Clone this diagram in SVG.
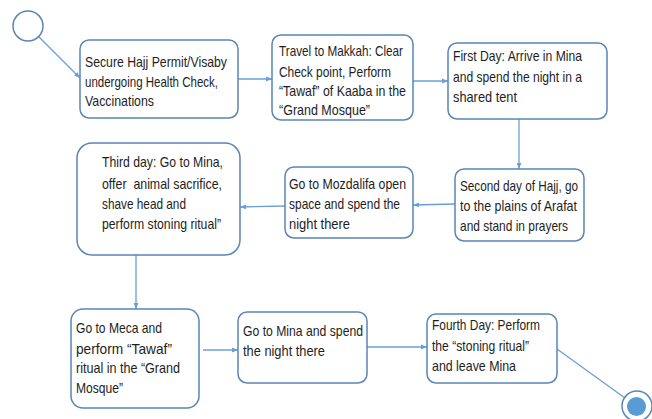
<svg xmlns="http://www.w3.org/2000/svg" width="652" height="419" viewBox="0 0 652 419">
  <style>
    .box { fill: #ffffff; stroke: #5a85b6; stroke-width: 1.5; }
    .edge { fill: none; stroke: #6a9fd6; stroke-width: 1.3; }
    .lbl { font-family: "Liberation Sans", Arial, sans-serif; font-size: 14.5px; fill: #1e1e1e; }
    .start { fill: #ffffff; stroke: #5a85b6; stroke-width: 1.5; }
    .end-ring { fill: #ffffff; stroke: #5a85b6; stroke-width: 1.5; }
    .end-dot { fill: #5b9bd5; }
  </style>
  <defs>
    <marker id="arr" viewBox="0 0 6 6" refX="6" refY="3" markerWidth="6" markerHeight="6" markerUnits="userSpaceOnUse" orient="auto">
      <path d="M0,0.6 L6,3 L0,5.4 z" fill="#6a9fd6"/>
    </marker>
  </defs>

  <!-- connectors -->
  <g id="connectors">
    <line class="edge" x1="39" y1="37" x2="80" y2="78" marker-end="url(#arr)"/>
    <line class="edge" x1="238" y1="79" x2="272" y2="79" marker-end="url(#arr)"/>
    <line class="edge" x1="413" y1="81" x2="448" y2="81" marker-end="url(#arr)"/>
    <line class="edge" x1="519" y1="119" x2="519" y2="169" marker-end="url(#arr)"/>
    <line class="edge" x1="455" y1="204" x2="413" y2="205" marker-end="url(#arr)"/>
    <line class="edge" x1="285" y1="206" x2="240" y2="207" marker-end="url(#arr)"/>
    <line class="edge" x1="136" y1="255" x2="136" y2="309" marker-end="url(#arr)"/>
    <line class="edge" x1="203" y1="350" x2="238" y2="350" marker-end="url(#arr)"/>
    <line class="edge" x1="367" y1="347" x2="427" y2="347" marker-end="url(#arr)"/>
    <line class="edge" x1="557" y1="349" x2="625" y2="398"/>
  </g>

  <!-- initial state -->
  <g id="start">
    <circle class="start" cx="28" cy="26" r="15"/>
  </g>

  <g id="n1">
    <rect class="box" x="80" y="40" width="158" height="78" rx="9"/>
    <text class="lbl" x="85" y="67" textLength="142" lengthAdjust="spacingAndGlyphs">Secure Hajj Permit/Visaby</text>
    <text class="lbl" x="85" y="87" textLength="133" lengthAdjust="spacingAndGlyphs">undergoing Health Check,</text>
    <text class="lbl" x="85" y="106" textLength="69" lengthAdjust="spacingAndGlyphs">Vaccinations</text>
  </g>

  <g id="n2">
    <rect class="box" x="272" y="35" width="141" height="85" rx="9"/>
    <text class="lbl" x="279" y="56" textLength="124" lengthAdjust="spacingAndGlyphs">Travel to Makkah: Clear</text>
    <text class="lbl" x="279" y="77" textLength="112" lengthAdjust="spacingAndGlyphs">Check point, Perform</text>
    <text class="lbl" x="279" y="96" textLength="127" lengthAdjust="spacingAndGlyphs">“Tawaf” of Kaaba in the</text>
    <text class="lbl" x="279" y="115" textLength="91" lengthAdjust="spacingAndGlyphs">“Grand Mosque”</text>
  </g>

  <g id="n3">
    <rect class="box" x="448" y="43" width="159" height="76" rx="9"/>
    <text class="lbl" x="453" y="61" textLength="129" lengthAdjust="spacingAndGlyphs">First Day: Arrive in Mina</text>
    <text class="lbl" x="453" y="82" textLength="129" lengthAdjust="spacingAndGlyphs">and spend the night in a</text>
    <text class="lbl" x="453" y="102" textLength="64" lengthAdjust="spacingAndGlyphs">shared tent</text>
  </g>

  <g id="n4">
    <rect class="box" x="455" y="169" width="129" height="72" rx="9"/>
    <text class="lbl" x="460" y="191" textLength="118" lengthAdjust="spacingAndGlyphs">Second day of Hajj, go</text>
    <text class="lbl" x="460" y="211" textLength="117" lengthAdjust="spacingAndGlyphs">to the plains of Arafat</text>
    <text class="lbl" x="460" y="231" textLength="108" lengthAdjust="spacingAndGlyphs">and stand in prayers</text>
  </g>

  <g id="n5">
    <rect class="box" x="285" y="167" width="128" height="71" rx="9"/>
    <text class="lbl" x="289" y="189" textLength="117" lengthAdjust="spacingAndGlyphs">Go to Mozdalifa open</text>
    <text class="lbl" x="289" y="209" textLength="111" lengthAdjust="spacingAndGlyphs">space and spend the</text>
    <text class="lbl" x="289" y="229" textLength="61" lengthAdjust="spacingAndGlyphs">night there</text>
  </g>

  <g id="n6">
    <rect class="box" x="77" y="143" width="163" height="112" rx="15"/>
    <text class="lbl" x="102" y="167" textLength="121" lengthAdjust="spacingAndGlyphs">Third day: Go to Mina,</text>
    <text class="lbl" x="102" y="189" textLength="120" lengthAdjust="spacingAndGlyphs" xml:space="preserve">offer  animal sacrifice,</text>
    <text class="lbl" x="102" y="209" textLength="84" lengthAdjust="spacingAndGlyphs">shave head and</text>
    <text class="lbl" x="102" y="229" textLength="119" lengthAdjust="spacingAndGlyphs">perform stoning ritual”</text>
  </g>

  <g id="n7">
    <rect class="box" x="71" y="309" width="128" height="99" rx="12"/>
    <text class="lbl" x="76" y="333" textLength="86" lengthAdjust="spacingAndGlyphs">Go to Meca and</text>
    <text class="lbl" x="76" y="354" textLength="96" lengthAdjust="spacingAndGlyphs">perform “Tawaf”</text>
    <text class="lbl" x="76" y="373" textLength="104" lengthAdjust="spacingAndGlyphs">ritual in the “Grand</text>
    <text class="lbl" x="76" y="393" textLength="47" lengthAdjust="spacingAndGlyphs">Mosque”</text>
  </g>

  <g id="n8">
    <rect class="box" x="238" y="312" width="129" height="71" rx="9"/>
    <text class="lbl" x="243" y="336" textLength="120" lengthAdjust="spacingAndGlyphs">Go to Mina and spend</text>
    <text class="lbl" x="243" y="356" textLength="82" lengthAdjust="spacingAndGlyphs">the night there</text>
  </g>

  <g id="n9">
    <rect class="box" x="427" y="314" width="130" height="69" rx="9"/>
    <text class="lbl" x="432" y="330" textLength="108" lengthAdjust="spacingAndGlyphs">Fourth Day: Perform</text>
    <text class="lbl" x="432" y="351" textLength="97" lengthAdjust="spacingAndGlyphs">the “stoning ritual”</text>
    <text class="lbl" x="432" y="371" textLength="84" lengthAdjust="spacingAndGlyphs">and leave Mina</text>
  </g>

  <!-- final state -->
  <g id="end">
    <circle class="end-ring" cx="637" cy="406" r="15"/>
    <circle class="end-dot" cx="636.5" cy="406.5" r="9.5"/>
  </g>
</svg>
